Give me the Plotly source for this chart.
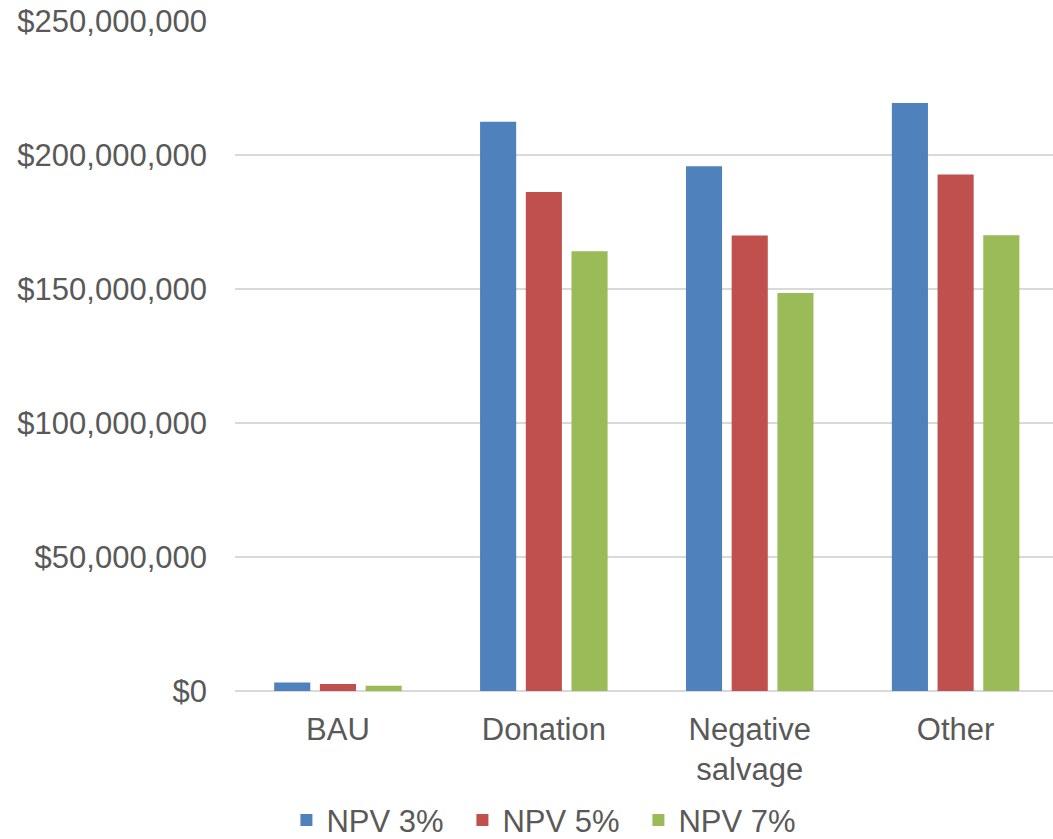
import plotly.graph_objects as go

# Scenario categories and NPV by discount rate (USD)
categories = ["BAU", "Donation", "Negative<br>salvage", "Other"]
npv_3 = [3.2e6, 212.4e6, 195.8e6, 219.4e6]
npv_5 = [2.6e6, 186.2e6, 170.0e6, 192.7e6]
npv_7 = [2.0e6, 164.1e6, 148.5e6, 170.1e6]
series_names = ["NPV 3%", "NPV 5%", "NPV 7%"]
y_ticks = [0, 50e6, 100e6, 150e6, 200e6, 250e6]
y_tick_labels = [f"${v:,.0f}" for v in y_ticks]

colors = ["#4F81BD", "#C0504D", "#9BBB59"]
font_family = "Liberation Sans, Arial, sans-serif"
text_color = "#595959"
font_size = 31

fig = go.Figure()
for name, values, color in zip(series_names, [npv_3, npv_5, npv_7], colors):
    fig.add_trace(go.Bar(
        name=name,
        x=categories,
        y=values,
        marker=dict(color=color, line=dict(width=0)),
    ))

fig.update_layout(
    width=1053,
    height=839,
    margin=dict(l=235, r=0, t=21, b=148, pad=0, autoexpand=False),
    paper_bgcolor="white",
    plot_bgcolor="white",
    barmode="group",
    bargap=0.334,
    bargroupgap=0.21,
    font=dict(family=font_family, size=font_size, color=text_color),
    xaxis=dict(
        range=[-0.5, 3.473],
        showgrid=False,
        showline=False,
        zeroline=False,
        ticks="",
        tickfont=dict(size=font_size, color=text_color),
        ticklabelstandoff=17,
    ),
    yaxis=dict(
        range=[0, 250e6],
        tickvals=y_ticks,
        ticktext=y_tick_labels,
        showgrid=True,
        gridcolor="#D9D9D9",
        gridwidth=1.5,
        zeroline=True,
        zerolinecolor="#D9D9D9",
        zerolinewidth=1.5,
        showline=False,
        ticks="",
        ticklabelstandoff=27,
        tickfont=dict(size=font_size, color=text_color),
    ),
    legend=dict(
        orientation="h",
        yref="paper",
        x=0.272 * 1053 / 818 - 235 / 818,
        xanchor="left",
        y=-0.193,
        yanchor="middle",
        entrywidth=131,
        entrywidthmode="pixels",
        font=dict(size=font_size, color=text_color),
        itemclick=False,
        bgcolor="rgba(0,0,0,0)",
    ),
)

fig.write_html("out.html")
